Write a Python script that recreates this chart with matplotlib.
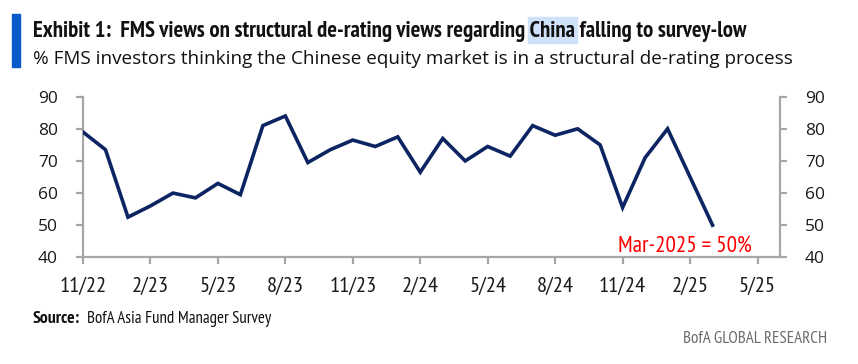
import matplotlib
matplotlib.use('Agg')
import matplotlib.pyplot as plt
from matplotlib import font_manager as fm
import matplotlib.patches as mpatches
from matplotlib.ticker import FixedLocator, FixedFormatter

# ---------------- data ----------------
months = ['Nov-22', 'Dec-22', 'Jan-23', 'Feb-23', 'Mar-23', 'Apr-23', 'May-23', 'Jun-23',
          'Jul-23', 'Aug-23', 'Sep-23', 'Oct-23', 'Nov-23', 'Dec-23', 'Jan-24', 'Feb-24',
          'Mar-24', 'Apr-24', 'May-24', 'Jun-24', 'Jul-24', 'Aug-24', 'Sep-24', 'Oct-24',
          'Nov-24', 'Dec-24', 'Jan-25', 'Feb-25', 'Mar-25']
values = [79, 73.5, 52.5, 56, 60, 58.5, 63, 59.5,
          81, 84, 69.5, 73.5, 76.5, 74.5, 77.5, 66.5,
          77, 70, 74.5, 71.5, 81, 78, 80, 75,
          55.5, 71, 80, 65, 50]
tick_labels = ['11/22', '2/23', '5/23', '8/23', '11/23', '2/24', '5/24', '8/24',
               '11/24', '2/25', '5/25']
y_ticks = [40, 50, 60, 70, 80, 90]

title_pre = 'Exhibit 1:  FMS views on structural de-rating views regarding '
title_hl = 'China'
title_post = ' falling to survey-low'
subtitle = '% FMS investors thinking the Chinese equity market is in a structural de-rating process'
annotation = 'Mar-2025 = 50%'


def pick(*names):
    for n in names:
        try:
            fm.findfont(fm.FontProperties(family=n), fallback_to_default=False)
            return n
        except Exception:
            pass
    return 'DejaVu Sans'


narrow = pick('PT Sans Narrow', 'Roboto Condensed', 'Archivo Narrow',
              'Liberation Sans Narrow', 'Liberation Sans')
sans = pick('Selawik', 'Open Sans', 'Noto Sans', 'DejaVu Sans')

W, H = 858, 364
fig = plt.figure(figsize=(W / 100, H / 100), dpi=100)
renderer = fig.canvas.get_renderer()


def fx(px):
    return px / W


def fy(py):
    return 1 - py / H


def width_px(t):
    return t.get_window_extent(renderer=renderer).width


def fit(t, target):
    for _ in range(3):
        w = width_px(t)
        t.set_fontsize(t.get_fontsize() * target / w)


# ---------------- axes ----------------
ax = fig.add_axes([fx(83), fy(257.3), fx(780 - 83), (257.3 - 96.7) / H])
x = list(range(len(values)))
ax.plot(x, values, color='#0c2461', lw=2.6, solid_joinstyle='miter', zorder=3)
ax.set_xlim(0, 31)
ax.set_ylim(40, 90)

tick_pos = [3 * i for i in range(len(tick_labels))]
ax.xaxis.set_major_locator(FixedLocator(tick_pos))
ax.xaxis.set_major_formatter(FixedFormatter(tick_labels))
ax.set_yticks(y_ticks)

ax.spines['top'].set_visible(False)
for s in ['left', 'right', 'bottom']:
    ax.spines[s].set_color('#a6a6a6')
    ax.spines[s].set_linewidth(1.6)

ax.tick_params(axis='x', direction='out', length=5, width=1.6, color='#a6a6a6',
               pad=9, labelsize=15, labelcolor='#1a1a1a')
ax.tick_params(axis='y', direction='out', length=5, width=1.6, color='#a6a6a6',
               left=True, right=True, labelleft=True, labelright=True,
               pad=13, labelsize=12.5, labelcolor='#1a1a1a')
for lab in ax.get_xticklabels():
    lab.set_fontfamily(narrow)
for lab in ax.get_yticklabels():
    lab.set_fontfamily(sans)
# size x tick labels so that "11/22" is ~47px wide
probe = fig.text(0, 0, tick_labels[0], fontfamily=narrow, fontsize=15, alpha=0)
fit(probe, 47)
xs = probe.get_fontsize()
probe.remove()
ax.tick_params(axis='x', labelsize=xs)

# annotation
ann = ax.text(0, 0, annotation, color='#ff0000', fontfamily=narrow, fontsize=15,
              ha='left', va='baseline', transform=fig.transFigure)
fit(ann, 752 - 618)
ann.set_position((fx(618), fy(252)))

# ---------------- header ----------------
fig.patches.append(mpatches.Rectangle((fx(12), fy(67)), fx(8), (67 - 14) / H,
                                      transform=fig.transFigure, color='#0a58ca',
                                      zorder=1))

title = fig.text(fx(33), fy(37), title_pre + title_hl + title_post, fontfamily=narrow,
                 fontweight='bold', fontsize=14, color='#111111', va='baseline',
                 ha='left', zorder=3)
fit(title, 745 - 33)
fs_t = title.get_fontsize()
pre = fig.text(fx(33), fy(37), title_pre + 'X', fontfamily=narrow, fontweight='bold',
               fontsize=fs_t, va='baseline', ha='left', alpha=0)
prehl = fig.text(fx(33), fy(37), title_pre + title_hl, fontfamily=narrow,
                 fontweight='bold', fontsize=fs_t, va='baseline', ha='left', alpha=0)
x_only = fig.text(0, 0, 'X', fontfamily=narrow, fontweight='bold', fontsize=fs_t, alpha=0)
x0 = pre.get_window_extent(renderer).x1 - width_px(x_only)
x1 = prehl.get_window_extent(renderer).x1
for t in (pre, prehl, x_only):
    t.remove()
fig.patches.append(mpatches.Rectangle((x0 / W - 0.002, fy(43)), (x1 - x0) / W + 0.004,
                                      (43 - 17) / H, transform=fig.transFigure,
                                      color='#cfe2fa', zorder=2))

sub = fig.text(fx(33), fy(64), subtitle, fontfamily=sans, fontsize=14,
               color='#111111', va='baseline', ha='left')
fit(sub, 793 - 33)

# ---------------- footer ----------------
src_b = fig.text(fx(33), fy(323), 'Source:', fontfamily=narrow, fontweight='bold',
                 fontsize=11, color='#111111', va='baseline', ha='left')
fit(src_b, 80 - 33)
src_r = fig.text(fx(87), fy(323), 'BofA Asia Fund Manager Survey', fontfamily=narrow,
                 fontsize=src_b.get_fontsize(), color='#111111', va='baseline', ha='left')
fit(src_r, 272 - 87)

brand = fig.text(fx(683), fy(343), 'BofA GLOBAL RESEARCH', fontfamily=narrow,
                 fontsize=11, color='#6b6b6b', va='baseline', ha='left')
fit(brand, 827 - 683)

fig.savefig('out.png', dpi=100)
